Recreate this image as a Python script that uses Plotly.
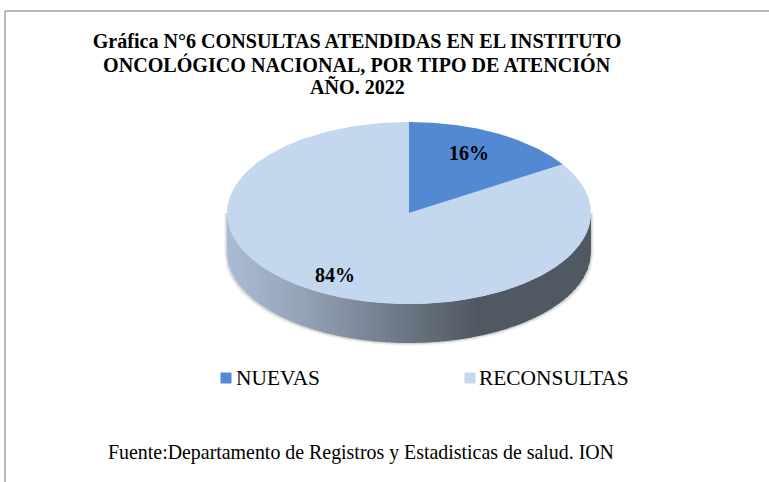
import numpy as np
import plotly.graph_objects as go

# Data
categories = ["NUEVAS", "RECONSULTAS"]
values = [16, 84]
colors = ["#5389d2", "#c3d7ee"]
title_lines = [
    "Gráfica N°6 CONSULTAS ATENDIDAS EN EL INSTITUTO",
    "ONCOLÓGICO NACIONAL, POR TIPO DE ATENCIÓN",
    "AÑO. 2022",
]
source_text = "Fuente:Departamento de Registros y Estadisticas de salud. ION"

# Drawing scale of the tilted pie (in plot units = pixels)
W, H = 769, 482
CX, CY, RX, RY, DEPTH = 409, 213, 182, 91, 39
GRAD_STOPS = [(0.0, (170, 188, 213)), (0.22, (146, 161, 181)), (0.50, (106, 116, 130)),
              (0.69, (80, 88, 98)), (1.0, (80, 88, 98))]

fig = go.Figure()


def grad_color(t):
    ts = [s[0] for s in GRAD_STOPS]
    rgb = [np.interp(t, ts, [s[1][i] for s in GRAD_STOPS]) for i in range(3)]
    return "rgb({:.0f},{:.0f},{:.0f})".format(*rgb)


# Soft halo below the wall
us = np.linspace(-1, 1, 181)
for grow, col in [(2.5, "#ececec"), (1.2, "#d4d4d4")]:
    x = CX + (RX + grow) * us
    y = CY + DEPTH + grow + RY * np.sqrt(1 - us**2)
    fig.add_trace(go.Scatter(
        x=np.r_[x, x[::-1]], y=np.r_[y, np.full_like(y, CY)][:362],
        mode="lines", fill="toself", fillcolor=col, line=dict(width=0),
        hoverinfo="skip", showlegend=False))

# Side wall, in thin gradient strips
edges = np.linspace(-1, 1, 92)
for a, b in zip(edges[:-1], edges[1:]):
    u = np.linspace(a, min(b + 0.004, 1), 5)
    top = CY + RY * np.sqrt(np.clip(1 - u**2, 0, 1))
    fig.add_trace(go.Scatter(
        x=np.r_[CX + RX * u, CX + RX * u[::-1]],
        y=np.r_[top, (top + DEPTH)[::-1]],
        mode="lines", fill="toself", fillcolor=grad_color((a + b + 2) / 4),
        line=dict(width=0), hoverinfo="skip", showlegend=False))

# Top face, drawn from the values
shares = np.array(values, dtype=float) / sum(values)
ends = np.cumsum(shares) * 2 * np.pi
starts = ends - shares * 2 * np.pi
order = [1, 0]
for i in order:
    t = np.linspace(starts[i], ends[i], 240)
    fig.add_trace(go.Scatter(
        x=np.r_[CX, CX + RX * np.sin(t), CX],
        y=np.r_[CY, CY - RY * np.cos(t), CY],
        mode="lines", fill="toself", fillcolor=colors[i], line=dict(width=0),
        name=categories[i], hoverinfo="name", showlegend=False))

# Percentage labels
label_pos = [(469, 153), (335, 275)]
for share, (lx, ly) in zip(shares, label_pos):
    fig.add_annotation(x=lx, y=ly, text=f"<b>{share:.0%}</b>", showarrow=False,
                       font=dict(family="Liberation Serif", size=20, color="black"))

# Legend
legend_marker = [(226, 378), (470, 378)]
legend_text = [236, 479]
for c, col, (mx, my), tx in zip(categories, colors, legend_marker, legend_text):
    fig.add_trace(go.Scatter(x=[mx], y=[my], mode="markers", name=c,
                             marker=dict(symbol="square", size=11, color=col),
                             hoverinfo="name", showlegend=False))
    fig.add_annotation(x=tx, y=my, text=c, xanchor="left", showarrow=False,
                       font=dict(family="Liberation Serif", size=21.4, color="black"), xshift=-2)

# Source note
fig.add_annotation(x=108, y=452, text=source_text, xanchor="left", showarrow=False, xshift=-2,
                   font=dict(family="Liberation Serif", size=19.9, color="black"))

# Second and third title lines
for line, ly in zip(title_lines[1:], [64, 87]):
    fig.add_annotation(x=357, y=ly, text=f"<b>{line}</b>", showarrow=False,
                       font=dict(family="Liberation Serif", size=20.1, color="black"))

# Frame
frame = dict(color="#a0a0a0", width=1.5)
fig.add_shape(type="line", x0=5, x1=W, y0=11, y1=11, line=frame)
fig.add_shape(type="line", x0=5, x1=5, y0=11, y1=H, line=frame)

fig.update_layout(
    width=W, height=H, margin=dict(l=0, r=0, t=0, b=0),
    paper_bgcolor="white", plot_bgcolor="white", showlegend=False,
    title=dict(text=f"<b>{title_lines[0]}</b>",
               x=357 / W, xanchor="center", y=1 - 41 / H, yanchor="middle",
               font=dict(family="Liberation Serif", size=20.1, color="black")),
    xaxis=dict(range=[0, W], visible=False, fixedrange=True),
    yaxis=dict(range=[H, 0], visible=False, fixedrange=True),
)
fig.write_html("out.html", config=dict(displayModeBar=False),
               post_script="document.body.style.margin='0';document.body.style.overflow='hidden';")
